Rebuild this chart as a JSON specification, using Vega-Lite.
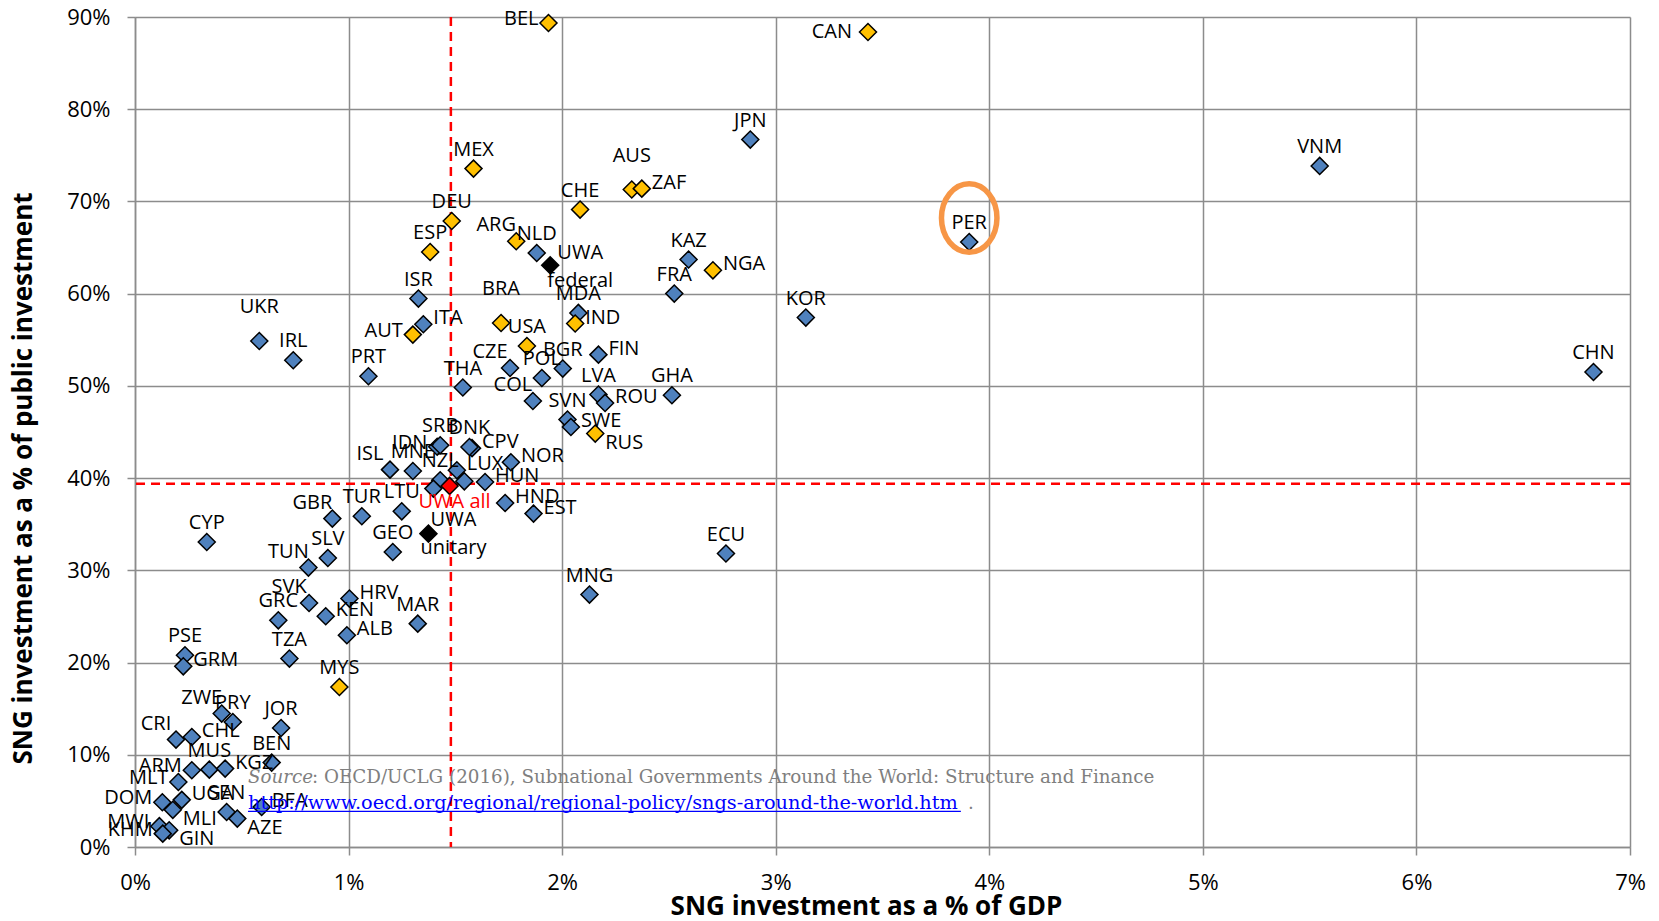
{
  "$schema": "https://vega.github.io/schema/vega-lite/v6.json",
  "autosize": {"type": "none"},
  "width": 1495,
  "height": 830,
  "padding": {"left": 135, "top": 17, "right": 29, "bottom": 74},
  "background": "#ffffff",
  "config": {"view": {"stroke": null}, "font": "Open Sans"},
  "datasets": {
    "countries": [
      {"code": "JPN", "gdp": 2.881, "pub": 76.71, "type": "Unitary"},
      {"code": "VNM", "gdp": 5.547, "pub": 73.85, "type": "Unitary"},
      {"code": "PER", "gdp": 3.906, "pub": 65.60, "type": "Unitary"},
      {"code": "NLD", "gdp": 1.881, "pub": 64.41, "type": "Unitary"},
      {"code": "KAZ", "gdp": 2.592, "pub": 63.70, "type": "Unitary"},
      {"code": "FRA", "gdp": 2.525, "pub": 60.01, "type": "Unitary"},
      {"code": "ISR", "gdp": 1.327, "pub": 59.47, "type": "Unitary"},
      {"code": "KOR", "gdp": 3.141, "pub": 57.41, "type": "Unitary"},
      {"code": "MDA", "gdp": 2.076, "pub": 57.91, "type": "Unitary"},
      {"code": "ITA", "gdp": 1.350, "pub": 56.68, "type": "Unitary"},
      {"code": "UKR", "gdp": 0.582, "pub": 54.87, "type": "Unitary"},
      {"code": "IRL", "gdp": 0.741, "pub": 52.78, "type": "Unitary"},
      {"code": "FIN", "gdp": 2.170, "pub": 53.39, "type": "Unitary"},
      {"code": "CHN", "gdp": 6.829, "pub": 51.51, "type": "Unitary"},
      {"code": "BGR", "gdp": 2.003, "pub": 51.88, "type": "Unitary"},
      {"code": "CZE", "gdp": 1.756, "pub": 51.94, "type": "Unitary"},
      {"code": "PRT", "gdp": 1.093, "pub": 51.04, "type": "Unitary"},
      {"code": "POL", "gdp": 1.905, "pub": 50.86, "type": "Unitary"},
      {"code": "THA", "gdp": 1.535, "pub": 49.82, "type": "Unitary"},
      {"code": "GHA", "gdp": 2.514, "pub": 48.98, "type": "Unitary"},
      {"code": "LVA", "gdp": 2.170, "pub": 49.06, "type": "Unitary"},
      {"code": "ROU", "gdp": 2.201, "pub": 48.15, "type": "Unitary"},
      {"code": "COL", "gdp": 1.863, "pub": 48.36, "type": "Unitary"},
      {"code": "SVN", "gdp": 2.025, "pub": 46.35, "type": "Unitary"},
      {"code": "SWE", "gdp": 2.041, "pub": 45.54, "type": "Unitary"},
      {"code": "IDN", "gdp": 1.415, "pub": 43.40, "type": "Unitary"},
      {"code": "SRB", "gdp": 1.429, "pub": 43.56, "type": "Unitary"},
      {"code": "CPV", "gdp": 1.578, "pub": 43.25, "type": "Unitary"},
      {"code": "DNK", "gdp": 1.566, "pub": 43.37, "type": "Unitary"},
      {"code": "NOR", "gdp": 1.760, "pub": 41.72, "type": "Unitary"},
      {"code": "ISL", "gdp": 1.194, "pub": 40.92, "type": "Unitary"},
      {"code": "MNE", "gdp": 1.301, "pub": 40.77, "type": "Unitary"},
      {"code": "LUX", "gdp": 1.507, "pub": 40.85, "type": "Unitary"},
      {"code": "NZL", "gdp": 1.429, "pub": 39.77, "type": "Unitary"},
      {"code": "", "gdp": 1.542, "pub": 39.65, "type": "Unitary"},
      {"code": "", "gdp": 1.397, "pub": 38.86, "type": "Unitary"},
      {"code": "HUN", "gdp": 1.639, "pub": 39.58, "type": "Unitary"},
      {"code": "HND", "gdp": 1.733, "pub": 37.30, "type": "Unitary"},
      {"code": "EST", "gdp": 1.866, "pub": 36.15, "type": "Unitary"},
      {"code": "LTU", "gdp": 1.249, "pub": 36.40, "type": "Unitary"},
      {"code": "TUR", "gdp": 1.062, "pub": 35.86, "type": "Unitary"},
      {"code": "GBR", "gdp": 0.924, "pub": 35.61, "type": "Unitary"},
      {"code": "CYP", "gdp": 0.336, "pub": 33.07, "type": "Unitary"},
      {"code": "GEO", "gdp": 1.207, "pub": 31.99, "type": "Unitary"},
      {"code": "ECU", "gdp": 2.767, "pub": 31.82, "type": "Unitary"},
      {"code": "SLV", "gdp": 0.903, "pub": 31.34, "type": "Unitary"},
      {"code": "TUN", "gdp": 0.812, "pub": 30.30, "type": "Unitary"},
      {"code": "MNG", "gdp": 2.128, "pub": 27.37, "type": "Unitary"},
      {"code": "HRV", "gdp": 1.004, "pub": 26.94, "type": "Unitary"},
      {"code": "SVK", "gdp": 0.815, "pub": 26.46, "type": "Unitary"},
      {"code": "KEN", "gdp": 0.893, "pub": 25.02, "type": "Unitary"},
      {"code": "GRC", "gdp": 0.671, "pub": 24.58, "type": "Unitary"},
      {"code": "MAR", "gdp": 1.324, "pub": 24.22, "type": "Unitary"},
      {"code": "ALB", "gdp": 0.992, "pub": 22.96, "type": "Unitary"},
      {"code": "TZA", "gdp": 0.723, "pub": 20.43, "type": "Unitary"},
      {"code": "PSE", "gdp": 0.234, "pub": 20.79, "type": "Unitary"},
      {"code": "GRM", "gdp": 0.226, "pub": 19.59, "type": "Unitary"},
      {"code": "ZWE", "gdp": 0.406, "pub": 14.47, "type": "Unitary"},
      {"code": "PRY", "gdp": 0.458, "pub": 13.55, "type": "Unitary"},
      {"code": "JOR", "gdp": 0.684, "pub": 12.90, "type": "Unitary"},
      {"code": "CHL", "gdp": 0.266, "pub": 11.93, "type": "Unitary"},
      {"code": "CRI", "gdp": 0.192, "pub": 11.65, "type": "Unitary"},
      {"code": "BEN", "gdp": 0.640, "pub": 9.15, "type": "Unitary"},
      {"code": "ARM", "gdp": 0.266, "pub": 8.32, "type": "Unitary"},
      {"code": "MUS", "gdp": 0.348, "pub": 8.39, "type": "Unitary"},
      {"code": "KGZ", "gdp": 0.422, "pub": 8.50, "type": "Unitary"},
      {"code": "MLT", "gdp": 0.203, "pub": 7.05, "type": "Unitary"},
      {"code": "UGA", "gdp": 0.219, "pub": 5.11, "type": "Unitary"},
      {"code": "DOM", "gdp": 0.128, "pub": 4.85, "type": "Unitary"},
      {"code": "MLI", "gdp": 0.177, "pub": 4.03, "type": "Unitary"},
      {"code": "BFA", "gdp": 0.593, "pub": 4.34, "type": "Unitary"},
      {"code": "SEN", "gdp": 0.429, "pub": 3.80, "type": "Unitary"},
      {"code": "AZE", "gdp": 0.479, "pub": 3.08, "type": "Unitary"},
      {"code": "MWI", "gdp": 0.114, "pub": 2.26, "type": "Unitary"},
      {"code": "GIN", "gdp": 0.160, "pub": 1.81, "type": "Unitary"},
      {"code": "KHM", "gdp": 0.130, "pub": 1.45, "type": "Unitary"},
      {"code": "BEL", "gdp": 1.936, "pub": 89.35, "type": "Federal"},
      {"code": "CAN", "gdp": 3.432, "pub": 88.37, "type": "Federal"},
      {"code": "MEX", "gdp": 1.585, "pub": 73.56, "type": "Federal"},
      {"code": "AUS", "gdp": 2.326, "pub": 71.29, "type": "Federal"},
      {"code": "ZAF", "gdp": 2.373, "pub": 71.39, "type": "Federal"},
      {"code": "CHE", "gdp": 2.084, "pub": 69.12, "type": "Federal"},
      {"code": "DEU", "gdp": 1.483, "pub": 67.88, "type": "Federal"},
      {"code": "ESP", "gdp": 1.382, "pub": 64.52, "type": "Federal"},
      {"code": "ARG", "gdp": 1.785, "pub": 65.68, "type": "Federal"},
      {"code": "NGA", "gdp": 2.706, "pub": 62.53, "type": "Federal"},
      {"code": "BRA", "gdp": 1.714, "pub": 56.82, "type": "Federal"},
      {"code": "IND", "gdp": 2.061, "pub": 56.76, "type": "Federal"},
      {"code": "AUT", "gdp": 1.301, "pub": 55.56, "type": "Federal"},
      {"code": "USA", "gdp": 1.835, "pub": 54.33, "type": "Federal"},
      {"code": "RUS", "gdp": 2.155, "pub": 44.83, "type": "Federal"},
      {"code": "MYS", "gdp": 0.957, "pub": 17.35, "type": "Federal"},
      {"code": "UWA federal", "gdp": 1.944, "pub": 63.08, "type": "UWA"},
      {"code": "UWA unitary", "gdp": 1.374, "pub": 33.98, "type": "UWA"},
      {"code": "UWA all", "gdp": 1.473, "pub": 39.15, "type": "UWA all"}
    ]
  },
  "layer": [
    {
      "data": {"values": [{"gdp": 1.479}]},
      "mark": {"type": "rule", "color": "#ff0000", "strokeWidth": 2.5, "strokeDash": [9, 6]},
      "encoding": {
        "x": {
          "field": "gdp", "type": "quantitative",
          "scale": {"domain": [0, 7], "nice": false, "zero": true},
          "axis": {
            "values": [0, 1, 2, 3, 4, 5, 6, 7],
            "labelExpr": "datum.value + '%'",
            "labelFlush": false,
            "grid": true, "gridColor": "#8c8c8c", "gridWidth": 1.5,
            "domainColor": "#8c8c8c", "domainWidth": 1.5,
            "tickColor": "#8c8c8c", "tickWidth": 1.5, "tickSize": 8,
            "labelFont": "Open Sans", "labelFontSize": 22, "labelColor": "#000000", "labelPadding": 17,
            "title": "SNG investment as a % of GDP",
            "titleFont": "Open Sans", "titleFontSize": 26, "titleFontWeight": "bold", "titleColor": "#000000",
            "titleX": 731, "titleY": 59, "titleAlign": "center", "titleBaseline": "middle"
          }
        }
      }
    },
    {
      "data": {"values": [{"pub": 39.4}]},
      "mark": {"type": "rule", "color": "#ff0000", "strokeWidth": 2.5, "strokeDash": [9, 6]},
      "encoding": {
        "y": {
          "field": "pub", "type": "quantitative",
          "scale": {"domain": [0, 90], "nice": false, "zero": true},
          "axis": {
            "values": [0, 10, 20, 30, 40, 50, 60, 70, 80, 90],
            "labelExpr": "datum.value + '%'",
            "labelFlush": false,
            "grid": true, "gridColor": "#8c8c8c", "gridWidth": 1.5,
            "domainColor": "#8c8c8c", "domainWidth": 1.5,
            "tickColor": "#8c8c8c", "tickWidth": 1.5, "tickSize": 8,
            "labelFont": "Open Sans", "labelFontSize": 22, "labelColor": "#000000", "labelPadding": 17,
            "title": "SNG investment as a % of public investment",
            "titleFont": "Open Sans", "titleFontSize": 26, "titleFontWeight": "bold", "titleColor": "#000000",
            "titleX": -112, "titleY": 461, "titleAngle": -90, "titleAlign": "center", "titleBaseline": "middle"
          }
        }
      }
    },
    {
      "data": {"name": "countries"},
      "mark": {"type": "point", "shape": "diamond", "filled": true, "size": 290, "stroke": "#000000", "strokeWidth": 1.5, "opacity": 1},
      "encoding": {
        "x": {"field": "gdp", "type": "quantitative"},
        "y": {"field": "pub", "type": "quantitative"},
        "fill": {
          "field": "type", "type": "nominal",
          "scale": {"domain": ["Unitary", "Federal", "UWA", "UWA all"], "range": ["#4F81BD", "#FFC000", "#000000", "#FF0000"]},
          "legend": null
        }
      }
    },
    {
      "data": {"name": "countries"},
      "transform": [{"filter": "datum.code == 'PER'"}],
      "mark": {"type": "point", "shape": "M -0.81 0 A 0.81 1 0 1 1 0.81 0 A 0.81 1 0 1 1 -0.81 0 Z", "filled": false, "size": 4692, "stroke": "#F79646", "strokeWidth": 5.5, "opacity": 1, "yOffset": -24},
      "encoding": {
        "x": {"field": "gdp", "type": "quantitative"},
        "y": {"field": "pub", "type": "quantitative"}
      }
    },
    {
      "data": {"name": "countries"},
      "transform": [{"filter": "datum.type != 'UWA' && datum.type != 'UWA all' && indexof(['BEL','CAN','AUT','MLT','DOM','MWI','KHM','ARM','IDN','ZAF','NGA','IND','ITA','FIN','ROU','SWE','NOR','HND','EST','HRV','KEN','ALB','GRM','CHL','KGZ','UGA','BFA','CPV','HUN','LUX','RUS','MLI','AZE','GIN','AUS','BRA','UKR','ISL','CZE','COL','GBR','TUN','SVK','ZWE','CRI','ARG'], datum.code) < 0"}],
      "mark": {"type": "text", "font": "Open Sans", "fontSize": 20, "color": "#000000", "align": "center", "baseline": "middle", "dy": -19},
      "encoding": {
        "x": {"field": "gdp", "type": "quantitative"},
        "y": {"field": "pub", "type": "quantitative"},
        "text": {"field": "code", "type": "nominal"}
      }
    },
    {
      "data": {"name": "countries"},
      "transform": [{"filter": "indexof(['ISL','CZE','COL','GBR','TUN','SVK','ZWE','CRI','ARG'], datum.code) >= 0"}],
      "mark": {"type": "text", "font": "Open Sans", "fontSize": 20, "color": "#000000", "align": "center", "baseline": "middle", "dx": -20, "dy": -16},
      "encoding": {
        "x": {"field": "gdp", "type": "quantitative"},
        "y": {"field": "pub", "type": "quantitative"},
        "text": {"field": "code", "type": "nominal"}
      }
    },
    {
      "data": {"name": "countries"},
      "transform": [{"filter": "indexof(['AUS','BRA','UKR'], datum.code) >= 0"}],
      "mark": {"type": "text", "font": "Open Sans", "fontSize": 20, "color": "#000000", "align": "center", "baseline": "middle", "dy": -34},
      "encoding": {
        "x": {"field": "gdp", "type": "quantitative"},
        "y": {"field": "pub", "type": "quantitative"},
        "text": {"field": "code", "type": "nominal"}
      }
    },
    {
      "data": {"name": "countries"},
      "transform": [{"filter": "indexof(['BEL','AUT','MLT','DOM','MWI','KHM','ARM','IDN'], datum.code) >= 0"}],
      "mark": {"type": "text", "font": "Open Sans", "fontSize": 20, "color": "#000000", "align": "right", "baseline": "middle", "dx": -10, "dy": -4},
      "encoding": {
        "x": {"field": "gdp", "type": "quantitative"},
        "y": {"field": "pub", "type": "quantitative"},
        "text": {"field": "code", "type": "nominal"}
      }
    },
    {
      "data": {"name": "countries"},
      "transform": [{"filter": "datum.code == 'CAN'"}],
      "mark": {"type": "text", "font": "Open Sans", "fontSize": 20, "color": "#000000", "align": "right", "baseline": "middle", "dx": -16, "dy": 0},
      "encoding": {
        "x": {"field": "gdp", "type": "quantitative"},
        "y": {"field": "pub", "type": "quantitative"},
        "text": {"field": "code", "type": "nominal"}
      }
    },
    {
      "data": {"name": "countries"},
      "transform": [{"filter": "indexof(['ZAF','NGA','IND','ITA','FIN','ROU','SWE','NOR','HND','EST','HRV','KEN','ALB','GRM','CHL','KGZ','UGA','BFA','CPV','HUN','LUX'], datum.code) >= 0"}],
      "mark": {"type": "text", "font": "Open Sans", "fontSize": 20, "color": "#000000", "align": "left", "baseline": "middle", "dx": 10, "dy": -6},
      "encoding": {
        "x": {"field": "gdp", "type": "quantitative"},
        "y": {"field": "pub", "type": "quantitative"},
        "text": {"field": "code", "type": "nominal"}
      }
    },
    {
      "data": {"name": "countries"},
      "transform": [{"filter": "indexof(['RUS','MLI','AZE','GIN'], datum.code) >= 0"}],
      "mark": {"type": "text", "font": "Open Sans", "fontSize": 20, "color": "#000000", "align": "left", "baseline": "middle", "dx": 10, "dy": 9},
      "encoding": {
        "x": {"field": "gdp", "type": "quantitative"},
        "y": {"field": "pub", "type": "quantitative"},
        "text": {"field": "code", "type": "nominal"}
      }
    },
    {
      "data": {"name": "countries"},
      "transform": [{"filter": "datum.code == 'UWA federal'"}],
      "mark": {"type": "text", "font": "Open Sans", "fontSize": 20, "color": "#000000", "align": "center", "baseline": "middle", "dx": 30, "dy": -12, "lineBreak": " ", "lineHeight": 28},
      "encoding": {
        "x": {"field": "gdp", "type": "quantitative"},
        "y": {"field": "pub", "type": "quantitative"},
        "text": {"field": "code", "type": "nominal"}
      }
    },
    {
      "data": {"name": "countries"},
      "transform": [{"filter": "datum.code == 'UWA unitary'"}],
      "mark": {"type": "text", "font": "Open Sans", "fontSize": 20, "color": "#000000", "align": "center", "baseline": "middle", "dx": 25, "dy": -14, "lineBreak": " ", "lineHeight": 28},
      "encoding": {
        "x": {"field": "gdp", "type": "quantitative"},
        "y": {"field": "pub", "type": "quantitative"},
        "text": {"field": "code", "type": "nominal"}
      }
    },
    {
      "data": {"name": "countries"},
      "transform": [{"filter": "datum.code == 'UWA all'"}],
      "mark": {"type": "text", "font": "Open Sans", "fontSize": 20, "color": "#FF0000", "align": "center", "baseline": "middle", "dx": 5, "dy": 16},
      "encoding": {
        "x": {"field": "gdp", "type": "quantitative"},
        "y": {"field": "pub", "type": "quantitative"},
        "text": {"field": "code", "type": "nominal"}
      }
    },
    {
      "data": {"values": [{"gdp": 0.529, "pub": 6.94, "note": "Source"}]},
      "mark": {"type": "text", "font": "DejaVu Serif", "fontSize": 18.3, "fontStyle": "italic", "color": "#7f7f7f", "align": "left", "baseline": "alphabetic"},
      "encoding": {
        "x": {"field": "gdp", "type": "quantitative"},
        "y": {"field": "pub", "type": "quantitative"},
        "text": {"field": "note", "type": "nominal"}
      }
    },
    {
      "data": {"values": [{"gdp": 0.529, "pub": 6.94, "note": ": OECD/UCLG (2016), Subnational Governments Around the World: Structure and Finance"}]},
      "mark": {"type": "text", "font": "DejaVu Serif", "fontSize": 18.3, "color": "#7f7f7f", "align": "left", "baseline": "alphabetic", "dx": 64},
      "encoding": {
        "x": {"field": "gdp", "type": "quantitative"},
        "y": {"field": "pub", "type": "quantitative"},
        "text": {"field": "note", "type": "nominal"}
      }
    },
    {
      "data": {"values": [{"gdp": 0.529, "pub": 4.16, "note": "http://www.oecd.org/regional/regional-policy/sngs-around-the-world.htm"}]},
      "mark": {"type": "text", "font": "DejaVu Serif", "fontSize": 19.3, "color": "#0000FF", "align": "left", "baseline": "alphabetic"},
      "encoding": {
        "x": {"field": "gdp", "type": "quantitative"},
        "y": {"field": "pub", "type": "quantitative"},
        "text": {"field": "note", "type": "nominal"}
      }
    },
    {
      "data": {"values": [{"gdp": 3.90, "pub": 4.16, "note": "."}]},
      "mark": {"type": "text", "font": "DejaVu Serif", "fontSize": 18.3, "color": "#7f7f7f", "align": "left", "baseline": "alphabetic"},
      "encoding": {
        "x": {"field": "gdp", "type": "quantitative"},
        "y": {"field": "pub", "type": "quantitative"},
        "text": {"field": "note", "type": "nominal"}
      }
    },
    {
      "data": {"values": [{"gdp": 0.529, "gdp2": 3.867, "pub": 3.87}]},
      "mark": {"type": "rule", "color": "#0000FF", "strokeWidth": 1.2},
      "encoding": {
        "x": {"field": "gdp", "type": "quantitative"},
        "x2": {"field": "gdp2"},
        "y": {"field": "pub", "type": "quantitative"}
      }
    }
  ]
}
